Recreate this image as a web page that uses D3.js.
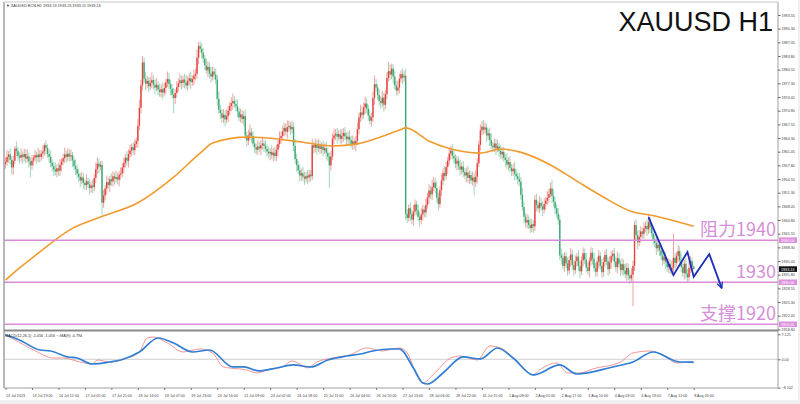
<!DOCTYPE html>
<html><head><meta charset="utf-8">
<script src="https://cdn.jsdelivr.net/npm/d3@7/dist/d3.min.js"></script>
<style>
html,body{margin:0;padding:0;background:#fff;overflow:hidden;}
svg{display:block;font-family:"Liberation Sans",Arial,sans-serif;}
</style></head><body>
<svg id="c" width="800" height="404"></svg>
<script>
// ---------------- DATA ----------------
const symbolTitle = "XAUUSD H1";
const headerText = "\u25BC XAUUSD-ECN,H1  1933.13 1933.23 1933.11 1933.13";
const macdHeader = "MACD(12,26,1) -1.056 -1.056  \u2053MA(9) -0.794";
const firstOpen = 1958.2;
const closes = [
1958.6,1959.8,1960.4,1959.1,1957.3,1958.9,1961.8,1961.2,1960.0,1959.6,
1960.3,1959.8,1960.5,1959.4,1959.9,1958.7,1957.8,1958.9,1959.6,1960.2,1959.7,1960.4,1959.8,1960.6,1961.1,
1962.6,1961.9,1960.5,1959.8,1958.4,1957.6,
1956.8,1956.3,1957.1,1956.5,1957.9,
1958.7,1959.5,1960.4,1959.8,1960.6,1959.9,1960.2,1959.0,1957.6,1956.9,
1955.8,1955.1,1954.2,1954.9,1953.6,1953.1,1954.0,1953.3,1952.4,1953.0,1952.6,
1954.8,1956.9,1958.2,1957.5,1957.9,
1948.9,
1950.6,1952.3,1953.8,1953.1,1954.5,1954.0,1955.2,1954.6,1955.0,1954.4,1955.6,1955.9,
1957.3,1958.4,1959.6,1958.9,1960.5,1961.3,1962.1,1961.4,1962.9,1963.6,
1967.2,1971.5,1976.8,1982.3,
1978.4,1977.2,1977.9,1976.6,1977.4,1978.1,1977.0,1976.3,1976.9,1975.8,1975.2,
1975.9,1975.1,1976.2,1977.5,1978.3,1977.1,1976.0,1974.6,1973.8,1975.0,1976.4,
1977.3,1978.0,1977.4,1978.2,1977.5,1976.8,1977.9,1978.5,1977.6,1978.3,1979.1,1979.6,
1983.4,1986.2,1985.5,1984.6,
1983.2,1981.6,1980.4,1981.2,1979.6,1978.9,1980.1,1979.4,1978.2,
1973.6,
1971.0,1970.2,1969.1,1969.8,1968.7,1969.5,1970.8,1971.9,1972.6,1973.1,1972.4,1971.8,1970.6,1969.2,1969.9,1968.8,1969.5,
1964.9,1963.7,1964.9,1965.6,1964.8,1963.0,1962.1,1961.5,1962.3,1961.8,1962.6,
1963.0,1962.4,1961.7,1961.1,1960.6,1961.0,1960.2,1960.8,1960.0,1961.5,1962.9,1964.3,1964.8,
1965.9,1966.7,1965.8,1966.9,1967.2,1966.4,1966.9,
1962.4,1959.3,
1957.9,1956.6,1955.4,1955.9,1955.1,1954.6,1955.3,1954.9,1955.6,1955.2,
1962.6,
1962.0,1962.8,1961.9,1962.5,1961.7,1962.3,1961.4,1961.9,1960.8,1959.9,1957.8,1959.9,1964.2,
1964.9,1965.3,1964.6,1965.2,1964.1,1964.8,1965.5,1964.7,1964.0,1964.6,1963.8,1962.9,1963.5,1962.7,1963.6,
1966.4,1969.2,1970.4,1969.8,1971.6,1972.5,
1971.3,1969.6,1968.4,1969.2,
1973.8,1977.1,1976.3,1974.5,1973.1,
1972.6,1973.9,1972.2,1974.8,
1978.6,1980.2,1979.4,1980.8,1978.9,
1976.8,1975.6,1976.3,
1978.4,1979.5,1978.7,1979.1,
1946.2,
1945.3,1947.6,1946.2,1944.9,1946.8,1948.5,1947.1,1945.6,1944.8,
1946.1,1947.3,1946.6,1948.4,1950.2,1951.8,1950.9,1952.6,1953.7,1952.4,1950.1,1948.6,
1951.9,1954.2,1956.0,1955.3,1957.4,1958.9,1960.6,1961.3,
1960.1,1959.5,1958.2,1958.9,1957.6,1956.8,1957.5,1956.2,1955.4,1956.1,1954.8,1955.5,1954.2,1954.9,1953.8,1955.1,
1958.3,1962.7,1966.1,1967.0,1966.3,
1966.8,1964.9,1965.4,1963.8,1962.5,1962.1,
1963.0,1961.8,1962.3,1961.2,1960.4,1961.0,1959.6,1959.1,1958.0,1958.6,1957.2,1956.4,1957.0,1955.8,1955.2,1954.6,1953.9,
1950.8,1947.9,1945.6,1944.2,1944.8,
1943.6,1942.9,1943.8,1943.3,
1949.6,
1948.4,1947.6,1948.9,1948.1,1947.3,1948.6,1949.4,1950.1,1951.0,
1952.3,1950.5,1949.1,1947.6,1946.3,1944.9,
1936.4,
1935.8,1933.9,1936.2,1934.5,1932.8,1935.3,1936.6,1934.1,1932.9,1935.0,
1936.1,1933.8,1932.6,1935.2,1936.9,1935.4,1933.5,1932.7,1935.1,1937.0,
1935.6,1933.4,1932.5,1934.9,1936.3,1933.9,1932.4,1934.8,1936.5,1935.0,
1933.1,1934.7,1936.2,1936.8,1934.9,1933.6,1935.7,1934.4,1932.9,1934.3,
1932.8,1931.9,1933.4,1931.6,1930.9,1931.8,
1933.9,1943.6,
1941.2,1939.5,1940.8,1942.1,1941.5,1942.8,1943.4,1942.6,1944.3,1943.1,
1941.6,1940.2,1939.4,1938.1,1938.9,1937.6,1936.4,1935.2,1936.0,1934.8,1933.6,1934.3,1932.9,1933.5,
1935.8,
1934.6,1936.3,1937.4,1935.2,1933.6,1932.2,1934.4,1932.0,1931.2,1933.4,1935.0,1933.8,1933.13
];
const upperWick = [
1.1,1.6,0.8,1.4,0.9,1.2,0.6,1.7,1.0,0.9,1.5,0.8,1.3,1.1,1.7,0.9,1.0,1.4,0.7,1.2,
0.9,1.6,1.1,0.8,1.4,0.5,1.2,0.9,1.1,1.5,0.8,1.0,1.7,0.9,1.3,1.4,0.8,1.1,1.6,0.9,
1.2,1.0,1.4,0.8,0.9,1.6,1.1,1.2,0.9,1.4,1.0,0.8,1.7,0.9,1.2,1.1,1.4,0.9,1.6,1.5,
1.2,0.9,1.0,1.4,0.8,1.6,1.1,0.9,1.4,1.2,0.9,1.6,1.1,0.8,1.4,1.0,1.2,0.9,1.6,1.1,
1.4,0.9,1.2,1.1,0.8,1.6,2.0,1.4,1.5,1.1,1.6,1.2,0.9,1.4,1.8,1.1,1.2,1.6,0.9,1.4,
1.1,1.6,1.2,0.9,1.8,1.4,1.1,1.2,1.6,0.9,1.4,1.1,1.6,1.2,0.9,1.4,1.8,1.1,1.2,1.6,
0.9,1.4,1.2,1.9,0.9,1.1,1.4,1.2,0.9,1.6,1.4,1.1,1.6,1.2,0.9,1.4,1.1,1.8,1.2,0.9,
1.4,1.1,1.6,1.2,0.9,1.4,1.8,1.1,1.2,1.6,0.9,1.4,1.1,1.2,1.6,0.9,1.4,1.9,1.1,1.2,
1.6,0.9,1.4,1.1,1.2,1.6,0.9,1.4,1.1,1.2,0.9,1.6,1.1,1.4,1.2,0.9,1.6,1.1,1.4,1.2,
1.1,1.6,1.2,0.9,1.4,1.1,1.6,1.2,0.9,1.4,1.1,1.6,1.2,0.9,1.4,1.1,1.2,1.6,0.9,1.4,
1.1,1.6,1.2,0.9,1.4,1.1,1.6,1.2,0.9,1.4,1.2,1.6,1.1,1.4,0.9,1.2,1.6,1.1,1.4,0.9,
1.2,1.6,1.1,1.4,0.9,1.2,1.6,1.1,1.8,1.4,1.1,1.6,1.2,0.9,1.4,1.1,1.6,2.0,1.2,0.9,
1.4,1.1,1.6,1.2,0.9,1.4,2.2,1.6,1.2,1.1,1.4,1.1,1.6,1.2,0.9,1.4,1.1,1.6,1.2,0.9,
1.4,1.1,1.6,1.2,0.9,1.4,1.1,1.6,1.2,0.9,1.4,1.1,1.6,1.2,1.8,1.4,1.1,1.6,1.2,0.9,
1.4,1.1,1.6,1.2,0.9,1.4,1.1,1.6,1.2,0.9,1.2,0.9,1.6,1.1,1.4,0.9,1.2,1.6,1.1,0.9,
1.4,1.1,1.6,1.2,0.9,1.4,1.4,1.6,1.2,0.9,1.1,1.4,1.6,0.9,1.2,1.1,1.6,0.9,1.4,1.1,
1.2,0.9,1.6,1.1,1.4,0.9,1.2,1.6,1.1,0.9,1.4,1.1,1.6,1.2,0.9,1.4,1.1,1.6,1.2,0.9,
1.1,1.4,0.9,1.6,1.2,1.1,1.4,0.9,1.6,1.2,1.4,2.0,1.6,1.2,0.9,1.4,1.1,1.6,1.2,0.9,
1.1,1.4,0.9,1.6,1.2,1.1,1.4,0.9,1.6,1.2,0.9,1.4,1.1,1.6,1.2,0.9,1.4,1.1,1.6,1.2,
1.1,1.4,0.9,1.6,1.2,1.1,1.4,0.9,1.6,1.2,0.9,1.4,1.1,1.6,1.2,0.9,1.4,1.1,1.6,1.2,
1.1,1.4,1.6,1.2,0.9,1.4,1.1,1.6,1.2,0.9,1.4,1.1,1.6,2.0,1.2,0.9,1.4,1.1,1.6,1.2,
0.9,1.4,1.1,1.6,1.2,0.9,1.4,1.1,1.6,5.8,1.2,0.9,1.4,1.1,1.6,1.2,0.9,1.4,1.1,1.6,
1.2,0.9,0.1
];
const lowerWick = [
1.2,0.9,1.4,1.1,1.6,1.8,0.9,1.2,1.1,1.4,0.9,1.6,1.1,1.2,0.9,1.4,2.8,1.1,1.2,0.9,
1.6,1.1,1.4,0.9,1.2,1.1,1.6,0.9,1.4,1.1,1.2,1.6,0.9,1.4,1.1,1.2,1.6,0.9,1.1,1.4,
0.9,1.2,1.1,1.6,0.9,1.4,1.1,1.2,1.6,0.9,1.4,1.1,1.2,0.9,1.6,1.1,1.4,0.9,1.2,1.1,
1.6,0.9,2.9,1.2,1.1,1.4,0.9,1.6,1.1,1.2,1.4,0.9,1.1,1.6,1.2,0.9,1.4,1.1,1.2,1.6,
0.9,1.4,1.1,1.2,0.9,1.6,1.1,1.4,1.2,0.9,1.6,1.1,1.4,0.9,1.2,1.1,1.6,0.9,1.4,1.1,
1.2,1.6,0.9,1.4,1.1,1.2,1.6,0.9,3.6,1.4,1.1,1.2,0.9,1.6,1.1,1.4,0.9,1.2,1.1,1.6,
0.9,1.4,1.1,1.2,1.6,0.9,1.4,1.1,1.2,0.9,1.6,1.1,1.4,0.9,1.2,1.1,1.6,0.9,1.4,1.1,
1.2,1.6,0.9,1.4,1.1,1.2,1.6,0.9,1.1,1.4,0.9,1.2,1.1,1.6,0.9,1.4,1.1,1.2,1.6,0.9,
1.4,1.1,1.2,0.9,1.6,1.1,1.4,0.9,1.2,1.1,1.6,0.9,1.4,1.1,1.2,1.6,0.9,1.4,1.1,1.2,
0.9,1.6,1.1,1.4,0.9,1.2,1.1,1.6,0.9,1.5,1.2,1.1,1.4,0.9,1.6,1.1,1.2,0.9,1.4,1.1,
1.6,0.9,1.2,1.1,1.4,0.9,1.6,1.1,5.3,1.2,0.9,1.4,1.1,1.6,0.9,1.2,1.1,1.4,0.9,1.6,
1.1,1.2,0.9,1.4,1.1,1.6,0.9,1.2,1.1,1.4,0.9,1.6,1.1,1.2,0.9,1.4,1.1,1.6,0.9,1.2,
1.1,1.4,0.9,1.6,1.1,1.2,0.9,1.4,1.1,1.6,0.9,1.2,1.1,1.4,0.9,1.6,1.1,1.4,1.2,0.9,
1.6,1.1,1.4,0.9,1.2,1.1,1.6,0.9,1.4,1.1,1.2,0.9,1.6,1.1,1.4,0.9,1.2,1.1,1.6,0.9,
1.4,1.1,1.2,0.9,1.6,1.1,1.4,0.9,1.2,1.1,1.6,0.9,1.4,1.1,1.2,0.9,1.6,1.1,1.4,0.9,
1.2,3.2,1.1,1.6,0.9,1.4,1.1,1.2,0.9,1.6,1.1,1.4,0.9,1.2,1.1,1.6,0.9,1.4,1.1,1.2,
0.9,1.6,1.1,1.4,0.9,1.2,1.1,1.6,0.9,1.4,1.1,1.2,0.9,1.6,1.1,1.4,0.9,1.2,1.0,1.6,
1.1,1.4,0.9,1.2,1.1,1.6,0.9,1.4,1.1,1.2,0.9,1.6,1.1,1.4,0.9,1.2,1.1,1.6,0.9,1.4,
1.1,1.2,0.9,1.6,1.1,1.4,0.9,1.2,1.1,1.6,0.9,1.4,1.1,1.2,0.9,1.6,1.1,1.4,0.9,1.2,
1.1,1.6,0.9,1.4,1.1,1.2,0.9,1.6,1.1,1.4,0.9,1.2,1.1,1.6,0.9,1.4,1.1,1.2,0.9,1.6,
1.1,1.4,0.9,7.5,1.2,1.1,1.6,0.9,1.4,1.1,1.2,0.9,1.6,1.1,1.4,0.9,1.2,1.1,1.6,0.9,
1.4,1.1,1.2,0.9,1.6,1.1,1.4,0.9,1.2,1.1,1.6,0.9,1.4,1.1,1.2,0.9,1.6,1.1,1.4,0.9,
1.2,1.1,0.02
];
const maBars   = [0,9,22,32,41,61,85,108,125,133,155,168,189,210,226,239,253,257,273,284,305,318,330,350,366,382,403,414,442];
const maValues = [1930.5,1933.4,1937.2,1940.1,1942.4,1945.5,1948.9,1955.0,1960.7,1963.1,1964.5,1964.3,1963.4,1962.4,1962.9,1964.3,1966.2,1966.7,1963.4,1961.9,1960.7,1961.7,1961.0,1957.9,1954.3,1950.7,1946.7,1946.0,1943.3];
const macdBars   = [0,5,18,31,37,48,56,59,67,78,86,91,95,104,114,125,133,140,144,155,162,168,178,184,189,194,200,210,221,232,242,253,258,264,268,275,286,292,303,311,318,329,339,343,354,361,369,377,395,403,414,425,431,440,442];
const macdValues = [6.93,5.79,2.65,0.37,0.37,-0.77,-1.34,-0.2,-0.77,0.37,2.08,6.07,6.36,4.65,2.08,2.94,1.8,-2.19,-2.48,-3.05,-3.9,-3.05,-2.19,-0.48,-1.34,-2.48,-0.77,0.37,1.23,3.22,2.37,3.22,1.8,-4.47,-6.75,-4.19,0.37,0.94,-0.2,3.79,3.22,-0.77,-4.47,-3.05,-1.05,-3.9,-3.9,-2.76,-0.77,1.8,2.37,0.37,-1.05,-0.77,-1.056];
const signalBars   = [0,9,22,29,40,46,56,67,74,86,98,108,120,131,146,153,163,174,185,196,207,219,228,236,247,253,262,268,271,281,294,305,316,326,339,356,367,390,403,416,433,442];
const signalValues = [6.93,5.5,2.65,2.37,0.66,0.37,-1.34,-0.77,-0.2,2.08,6.07,4.65,2.08,2.65,-2.19,-2.19,-3.33,-2.48,-1.62,-2.19,-0.2,0.94,1.51,2.37,2.94,2.94,-2.48,-6.75,-7.04,-3.9,0.66,0.09,3.22,0.37,-4.47,-1.62,-4.19,-2.19,-0.77,2.08,-0.77,-0.794];
const priceTicks = [1918.80,1922.05,1925.30,1928.55,1931.80,1935.05,1938.30,1941.55,1944.80,1948.05,1951.30,1954.55,1957.80,1961.05,1964.30,1967.55,1970.80,1974.05,1977.30,1980.55,1983.80,1987.05,1990.30,1993.55];
const macdTicks = [7.125, 0.00, -8.102];
const timeLabels = ["13 Jul 2023","13 Jul 19:00","14 Jul 12:00","17 Jul 05:00","17 Jul 21:00","18 Jul 14:00","19 Jul 07:00","19 Jul 23:00","20 Jul 16:00","21 Jul 09:00","24 Jul 02:00","24 Jul 18:00","25 Jul 11:00","26 Jul 04:00","26 Jul 20:00","27 Jul 13:00","28 Jul 06:00","28 Jul 22:00","31 Jul 15:00","1 Aug 08:00","2 Aug 01:00","2 Aug 17:00","3 Aug 10:00","4 Aug 03:00","4 Aug 19:00","7 Aug 12:00","8 Aug 05:00"];
const barsPerLabel = 17;
const levelValues = [1940, 1930, 1920];
const levelTexts  = ["阻力1940", "1930", "支撑1920"];
const lastPrice = 1933.13;
const arrowBars   = [413, 429, 438, 442, 452, 460];
const arrowPrices = [1945.5, 1931.7, 1937.2, 1931.3, 1936.7, 1928.6];

// ---------------- LAYOUT ----------------
const L = 4, R = 778, mainTop = 2, mainBot = 329, macdTop = 332, macdBot = 388;
const totalSlots = 494;
const x = d3.scaleLinear().domain([0, totalSlots]).range([5.5, 5.5 + totalSlots * 1.557]);
const y = d3.scaleLinear().domain([1922.05, 1993.55]).range([315.7, 15]);
const ym = d3.scaleLinear().domain([-8.102, 7.125]).range([387.7, 334.3]);

const svg = d3.select("#c");
svg.append("rect").attr("width", 800).attr("height", 404).attr("fill", "#f0f0f0");
svg.append("rect").attr("x", 0).attr("y", 0).attr("width", 798).attr("height", 400).attr("fill", "#fff");

const defs = svg.append("defs");
defs.append("clipPath").attr("id", "cm").append("rect").attr("x", L).attr("y", mainTop).attr("width", R - L).attr("height", mainBot - mainTop);
defs.append("clipPath").attr("id", "cd").append("rect").attr("x", L).attr("y", macdTop).attr("width", R - L).attr("height", macdBot - macdTop);

// candles
const candles = closes.map((c, i) => {
  const o = i === 0 ? firstOpen : closes[i - 1];
  return { i, o, c, h: Math.max(o, c) + upperWick[i], l: Math.min(o, c) - lowerWick[i] };
});
const gm = svg.append("g").attr("clip-path", "url(#cm)");
const UP = "#e5403c", DN = "#3aa870";
gm.selectAll("line.w").data(candles).join("line")
  .attr("x1", d => x(d.i)).attr("x2", d => x(d.i))
  .attr("y1", d => y(d.h)).attr("y2", d => y(d.l))
  .attr("stroke", d => d.c >= d.o ? "#f0a3a1" : "#9fd6b8").attr("stroke-width", 1);
gm.selectAll("rect.b").data(candles).join("rect")
  .attr("x", d => x(d.i) - 0.7).attr("width", 1.4)
  .attr("y", d => y(Math.max(d.o, d.c)))
  .attr("height", d => Math.max(0.6, Math.abs(y(d.o) - y(d.c))))
  .attr("fill", d => d.c >= d.o ? UP : DN);

// moving average
const maLine = d3.line().x(d => x(d[0])).y(d => y(d[1])).curve(d3.curveMonotoneX);
gm.append("path").datum(maBars.map((b, k) => [b, maValues[k]]))
  .attr("d", maLine).attr("fill", "none").attr("stroke", "#f29a2e").attr("stroke-width", 1.6);

// levels
const PINK = "#d98ad9";
gm.selectAll("line.lv").data(levelValues).join("line")
  .attr("x1", L).attr("x2", R).attr("y1", d => y(d)).attr("y2", d => y(d))
  .attr("stroke", PINK).attr("stroke-width", 1.4);

// level texts
svg.selectAll("text.lt").data(levelValues).join("text")
  .attr("x", 776).attr("y", d => y(d) - 4)
  .attr("text-anchor", "end")
  .attr("font-family", "'Noto Sans CJK SC','Noto Sans',sans-serif")
  .attr("font-size", 18).attr("fill", "#d58fd8")
  .text((d, k) => levelTexts[k]);

// hand-drawn blue path
const arrowPts = arrowBars.map((b, k) => [x(b), y(arrowPrices[k])]);
defs.append("marker").attr("id", "ah").attr("viewBox", "0 0 10 10").attr("refX", 9).attr("refY", 5)
  .attr("markerWidth", 4).attr("markerHeight", 4).attr("orient", "auto")
  .append("path").attr("d", "M1,1 L9,5 L1,9").attr("fill", "none").attr("stroke", "#1d2db8").attr("stroke-width", 1.8);
svg.append("path").attr("d", d3.line()(arrowPts)).attr("fill", "none")
  .attr("stroke", "#1d2db8").attr("stroke-width", 1.8).attr("marker-end", "url(#ah)");

// title
svg.append("text").attr("x", 773).attr("y", 31).attr("text-anchor", "end")
  .attr("font-size", 27).attr("fill", "#111").text(symbolTitle);
svg.append("text").attr("x", 6).attr("y", 7).attr("font-size", 3.8).attr("fill", "#333").text(headerText);

// MACD panel
const gd = svg.append("g").attr("clip-path", "url(#cd)");
gd.append("line").attr("x1", L).attr("x2", R).attr("y1", ym(0)).attr("y2", ym(0)).attr("stroke", "#d0d0d0").attr("stroke-width", 1);
const mline = d3.line().x(d => x(d[0])).y(d => ym(d[1])).curve(d3.curveMonotoneX);
gd.append("path").datum(macdBars.map((b, k) => [b, macdValues[k]])).attr("d", mline)
  .attr("fill", "none").attr("stroke", "#f07a7a").attr("stroke-width", 0.8);
gd.append("path").datum(signalBars.map((b, k) => [b, signalValues[k]])).attr("d", mline)
  .attr("fill", "none").attr("stroke", "#2f7fd6").attr("stroke-width", 1.7);
svg.append("text").attr("x", 5).attr("y", 336.5).attr("font-size", 3.8).attr("fill", "#333").text(macdHeader);

// frames
const FR = "#a0a0a0";
svg.append("line").attr("x1", L).attr("x2", L).attr("y1", mainTop).attr("y2", macdBot).attr("stroke", FR).attr("stroke-width", 1.5);
svg.append("line").attr("x1", R).attr("x2", R).attr("y1", mainTop).attr("y2", macdBot).attr("stroke", FR).attr("stroke-width", 1);
svg.append("line").attr("x1", L).attr("x2", R).attr("y1", mainTop).attr("y2", mainTop).attr("stroke", "#c8c8c8").attr("stroke-width", 1);
svg.append("line").attr("x1", L).attr("x2", R).attr("y1", 330.5).attr("y2", 330.5).attr("stroke", "#8a8a8a").attr("stroke-width", 2);
svg.append("line").attr("x1", L).attr("x2", R).attr("y1", macdBot).attr("y2", macdBot).attr("stroke", FR).attr("stroke-width", 1);

// right price axis
const ay = svg.append("g").attr("transform", `translate(${R},0)`)
  .call(d3.axisRight(y).tickValues(priceTicks).tickSize(2.5).tickPadding(1).tickFormat(d3.format(".2f")));
ay.select(".domain").remove();
ay.selectAll("line").attr("stroke", "#666");
ay.selectAll("text").attr("font-size", 3.7).attr("fill", "#444").attr("font-family", "'Liberation Sans',Arial,sans-serif");

const am = svg.append("g").attr("transform", `translate(${R},0)`)
  .call(d3.axisRight(ym).tickValues(macdTicks).tickSize(2.5).tickPadding(1).tickFormat(d => d === 0 ? "0.00" : d3.format(".3f")(d)));
am.select(".domain").remove();
am.selectAll("line").attr("stroke", "#666");
am.selectAll("text").attr("font-size", 3.7).attr("fill", "#444").attr("font-family", "'Liberation Sans',Arial,sans-serif");

// level price tags
levelValues.forEach(v => {
  const g = svg.append("g").attr("transform", `translate(${R + 1},${y(v)})`);
  g.append("rect").attr("x", 0).attr("y", -2.8).attr("width", 18).attr("height", 5.6).attr("fill", "#dc8fdc");
  g.append("text").attr("x", 2).attr("y", 1.4).attr("font-size", 3.7).attr("fill", "#fff").text(d3.format(".2f")(v));
});
{
  const g = svg.append("g").attr("transform", `translate(${R + 1},${y(lastPrice)})`);
  g.append("rect").attr("x", 0).attr("y", -2.8).attr("width", 18).attr("height", 5.6).attr("fill", "#111");
  g.append("text").attr("x", 2).attr("y", 1.4).attr("font-size", 3.7).attr("fill", "#fff").text(d3.format(".2f")(lastPrice));
}

// bottom time axis
const tIdx = timeLabels.map((t, k) => k * barsPerLabel);
const ax = svg.append("g").attr("transform", `translate(0,${macdBot})`)
  .call(d3.axisBottom(x).tickValues(tIdx).tickSize(2).tickPadding(4).tickFormat((d, k) => timeLabels[k]));
ax.select(".domain").remove();
ax.selectAll("line").attr("stroke", "#777");
ax.selectAll("text").attr("text-anchor", "start").attr("font-size", 3.7).attr("fill", "#444")
  .attr("font-family", "'Liberation Sans',Arial,sans-serif");
</script>
</body></html>
